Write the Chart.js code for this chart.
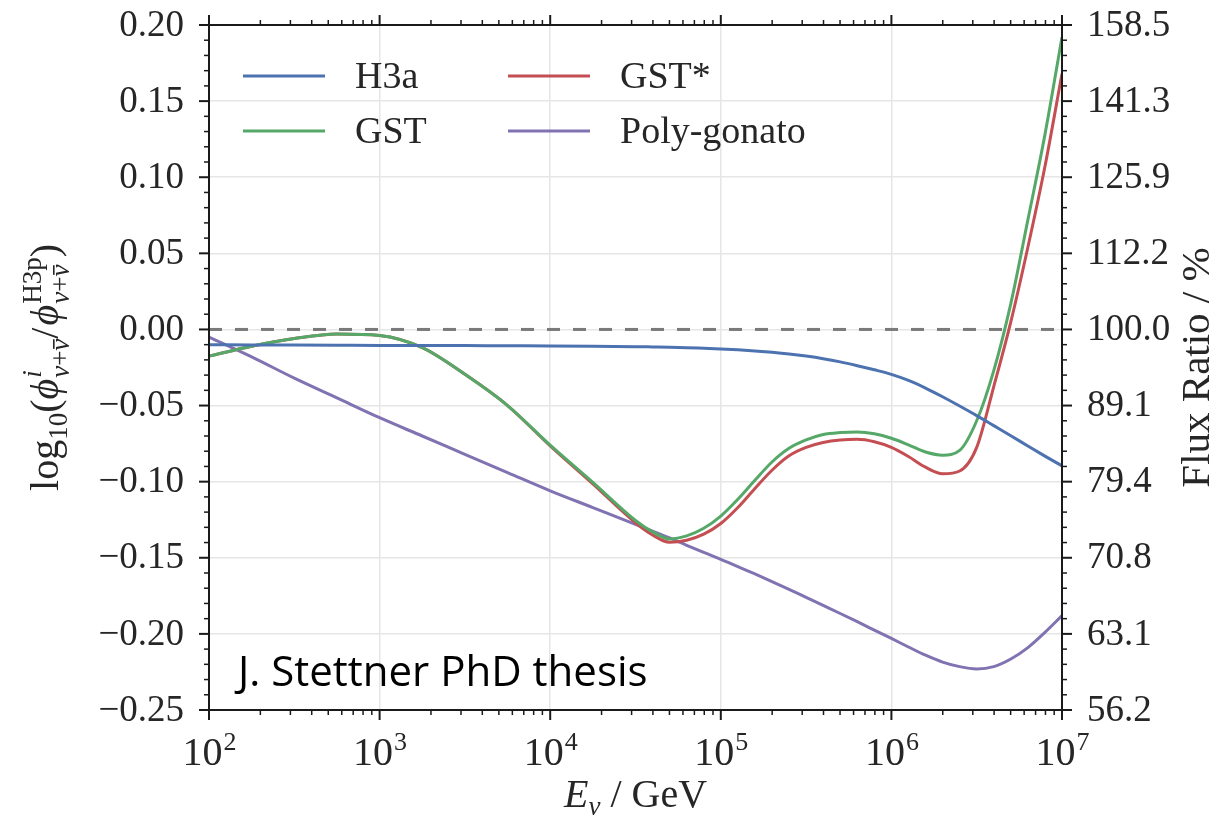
<!DOCTYPE html>
<html><head><meta charset="utf-8">
<script src="https://cdn.jsdelivr.net/npm/chart.js@4.4.0/dist/chart.umd.min.js"></script>
<style>html,body{margin:0;padding:0;background:#fff;}#wrap{width:1217px;height:815px;}</style>
</head><body><div id="wrap"><canvas id="c" width="1217" height="815"></canvas></div>
<script>
// ---- data ----
const energies = [100, 177.8, 316.2, 562.3, 1000, 1778, 3162, 5623, 10000, 17783,
  31623, 39811, 50119, 63096, 79433, 100000, 125893, 158489, 199526, 251189, 316228, 398107, 501187, 630957, 794328,
  1000000, 1258925, 1584893, 1995262, 2511886, 3162278, 3981072, 5011872, 6309573, 7943282, 10000000];
const h3a = [-0.0100, -0.0102, -0.0103, -0.0104, -0.0105, -0.0105, -0.0106, -0.0107, -0.0108, -0.0110,
  -0.0113, -0.0115, -0.0117, -0.0120, -0.0124, -0.0128, -0.0134, -0.0141, -0.0150, -0.0161, -0.0175, -0.0192, -0.0213, -0.0238, -0.0265,
  -0.0295, -0.0335, -0.0385, -0.0442, -0.0503, -0.0566, -0.0632, -0.0698, -0.0766, -0.0832, -0.0896];
const gst = [-0.0175, -0.0110, -0.0060, -0.0030, -0.0040, -0.0120, -0.0295, -0.0500, -0.0760, -0.1005,
  -0.1255, -0.1330, -0.1376, -0.1356, -0.1306, -0.1226, -0.1116, -0.0991, -0.0871, -0.0781, -0.0726, -0.0690, -0.0677, -0.0673, -0.0685,
  -0.0715, -0.0758, -0.0805, -0.0826, -0.0795, -0.0600, -0.0270, 0.0170, 0.0720, 0.1280, 0.1920];
const gstStar = [-0.0175, -0.0110, -0.0060, -0.0030, -0.0040, -0.0120, -0.0295, -0.0500, -0.0765, -0.1015,
  -0.1270, -0.1350, -0.1398, -0.1385, -0.1345, -0.1275, -0.1170, -0.1045, -0.0925, -0.0830, -0.0775, -0.0743, -0.0727, -0.0722, -0.0738,
  -0.0775, -0.0835, -0.0905, -0.0948, -0.0930, -0.0775, -0.0375, 0.0050, 0.0540, 0.1070, 0.1680];
const polyGonato = [-0.0050, -0.0180, -0.0320, -0.0450, -0.0580, -0.0700, -0.0820, -0.0940, -0.1060, -0.1170,
  -0.1280, -0.1325, -0.1370, -0.1418, -0.1465, -0.1510, -0.1558, -0.1606, -0.1656, -0.1707, -0.1760, -0.1813, -0.1866, -0.1920, -0.1975,
  -0.2030, -0.2086, -0.2140, -0.2185, -0.2215, -0.2230, -0.2215, -0.2165, -0.2090, -0.1990, -0.1880];
const refEnergies = [100, 10000000];
const refValues = [0, 0];
const seriesNames = ['H3a', 'GST', 'GST*', 'Poly-gonato'];
const yTickValues = [0.20, 0.15, 0.10, 0.05, 0.00, -0.05, -0.10, -0.15, -0.20, -0.25];
const yTickLabels = ['0.20', '0.15', '0.10', '0.05', '0.00', '\u22120.05', '\u22120.10', '\u22120.15', '\u22120.20', '\u22120.25'];
const fluxRatioLabels = ['158.5', '141.3', '125.9', '112.2', '100.0', '89.1', '79.4', '70.8', '63.1', '56.2'];
const xTickValues = [1e2, 1e3, 1e4, 1e5, 1e6, 1e7];
const xTickBases = ['10', '10', '10', '10', '10', '10'];
const xTickExponents = ['2', '3', '4', '5', '6', '7'];
const annotationText = 'J. Stettner PhD thesis';

// ---- styles ----
const colors = { 'H3a': '#4C72B0', 'GST': '#55A868', 'GST*': '#C44E52', 'Poly-gonato': '#8172B2' };
const SERIF = '"Liberation Serif", "DejaVu Serif", serif';
const TXT = '#262626';

function pts(xs, ys) { return xs.map((x, i) => ({ x: x, y: ys[i] })); }
const seriesData = { 'H3a': h3a, 'GST': gst, 'GST*': gstStar, 'Poly-gonato': polyGonato };

const datasets = [{
  label: 'ref', data: pts(refEnergies, refValues), borderColor: '#7a7a7a', borderWidth: 3,
  borderDash: [13, 13], pointRadius: 0, yAxisID: 'y'
}].concat(seriesNames.map(n => ({
  label: n, data: pts(energies, seriesData[n]), borderColor: colors[n], borderWidth: 3,
  pointRadius: 0, cubicInterpolationMode: 'monotone', yAxisID: 'y'
})));

// math-ish text runs
function mRun(ctx, r) {
  if (r.stack) return Math.max.apply(null, r.stack.map(s => mRun(ctx, s)));
  if (r.seq) return r.seq.reduce((s, q) => s + mRun(ctx, q), 0);
  ctx.font = r.f; return ctx.measureText(r.t).width + (r.pad || 0);
}
function dRun(ctx, r, x, y) {
  if (r.stack) { r.stack.forEach(s => dRun(ctx, s, x, y)); return mRun(ctx, r); }
  if (r.seq) { let cx = x; r.seq.forEach(q => { cx += dRun(ctx, q, cx, y + (r.dy || 0)); }); return cx - x; }
  ctx.font = r.f; const yy = y + (r.dy || 0);
  ctx.fillText(r.t, x, yy);
  const w = ctx.measureText(r.t).width;
  if (r.bar) ctx.fillRect(x + w * 0.15, yy - r.bar, w * 0.8, 1.6);
  return w + (r.pad || 0);
}
function drawRuns(ctx, runs, cx, cy, rot) {
  const w = runs.reduce((s, r) => s + mRun(ctx, r), 0);
  ctx.save(); ctx.translate(cx, cy); if (rot) ctx.rotate(rot);
  let x = -w / 2; runs.forEach(r => { x += dRun(ctx, r, x, 0); });
  ctx.restore();
}

const decor = {
  id: 'decor',
  afterDraw(chart) {
    const ctx = chart.ctx, a = chart.chartArea, xs = chart.scales.x, ys = chart.scales.y;
    ctx.save();
    ctx.fillStyle = TXT; ctx.strokeStyle = '#1a1a1a';
    ctx.lineWidth = 2;
    ctx.strokeRect(a.left, a.top, a.right - a.left, a.bottom - a.top);
    const tick = (x1, y1, x2, y2, w) => { ctx.lineWidth = w; ctx.beginPath(); ctx.moveTo(x1, y1); ctx.lineTo(x2, y2); ctx.stroke(); };
    for (let i = 0; i < xTickValues.length; i++) {
      const d = xTickValues[i]; const px = xs.getPixelForValue(d);
      tick(px, a.bottom, px, a.bottom + 10, 2); tick(px, a.top, px, a.top - 10, 2);
      if (i < xTickValues.length - 1) for (let m = 2; m <= 9; m++) {
        const q = xs.getPixelForValue(d * m);
        tick(q, a.bottom, q, a.bottom + 5, 1.5); tick(q, a.top, q, a.top - 5, 1.5);
      }
    }
    for (let k = -25; k <= 20; k++) {
      const py = ys.getPixelForValue(k / 100); const major = (k % 5 === 0);
      const L = major ? 10 : 5, W = major ? 2 : 1.5;
      tick(a.left, py, a.left - L, py, W); tick(a.right, py, a.right + L, py, W);
    }
    // y tick labels
    ctx.textBaseline = 'middle';
    ctx.font = '37px ' + SERIF; ctx.textAlign = 'right';
    yTickValues.forEach((v, i) => ctx.fillText(yTickLabels[i], a.left - 25, ys.getPixelForValue(v) + 1));
    ctx.textAlign = 'left';
    yTickValues.forEach((v, i) => ctx.fillText(fluxRatioLabels[i], a.right + 25, ys.getPixelForValue(v) + 1));
    // x tick labels 10^n
    ctx.textBaseline = 'alphabetic'; ctx.textAlign = 'left';
    xTickValues.forEach((v, i) => {
      const px = xs.getPixelForValue(v);
      ctx.font = '40px ' + SERIF; const wb = ctx.measureText(xTickBases[i]).width;
      ctx.font = '26px ' + SERIF; const we = ctx.measureText(xTickExponents[i]).width;
      const x0 = px - (wb + we) / 2;
      ctx.font = '40px ' + SERIF; ctx.fillText(xTickBases[i], x0, a.bottom + 55);
      ctx.font = '26px ' + SERIF; ctx.fillText(xTickExponents[i], x0 + wb + 1, a.bottom + 40);
    });
    // axis titles
    const M = '40px ' + SERIF, MI = 'italic 40px ' + SERIF, S = '27px ' + SERIF, SI = 'italic 27px ' + SERIF;
    const nuSum = [{ t: '\u03bd', f: SI }, { t: '+', f: S }, { t: '\u03bd', f: SI, bar: 16 }];
    drawRuns(ctx, [
      { t: 'log', f: M }, { t: '10', f: S, dy: 9 }, { t: '(', f: M }, { t: '\u03d5', f: MI, pad: 1 },
      { stack: [{ t: 'i', f: SI, dy: -17 }, { seq: nuSum, dy: 11 }] }, { t: '/', f: M, pad: 2 },
      { t: '\u03d5', f: MI, pad: 1 }, { stack: [{ t: 'H3p', f: S, dy: -17 }, { seq: nuSum, dy: 11 }] }, { t: ')', f: M }
    ], 58, (a.top + a.bottom) / 2, -Math.PI / 2);
    drawRuns(ctx, [{ t: 'Flux Ratio / %', f: '41px ' + SERIF }], 1209, (a.top + a.bottom) / 2, -Math.PI / 2);
    drawRuns(ctx, [{ t: 'E', f: 'italic 40px ' + SERIF }, { t: '\u03bd', f: 'italic 27px ' + SERIF, dy: 8 }, { t: ' / GeV', f: '40px ' + SERIF }],
      (a.left + a.right) / 2, 807, 0);
    // legend (2 columns, inside)
    const leg = chart.data.datasets.filter(d => d.label !== 'ref');
    const cols = [[243, 355], [508, 620]], rows = [76, 131];
    leg.forEach((d, i) => {
      const c = cols[Math.floor(i / 2)], ry = rows[i % 2];
      ctx.strokeStyle = d.borderColor; ctx.lineWidth = 3;
      ctx.beginPath(); ctx.moveTo(c[0], ry); ctx.lineTo(c[0] + 82, ry); ctx.stroke();
      ctx.fillStyle = TXT; ctx.font = '38px ' + SERIF; ctx.textBaseline = 'middle';
      ctx.fillText(d.label, c[1], ry + 2);
    });
    // annotation
    ctx.fillStyle = '#000'; ctx.textBaseline = 'alphabetic'; ctx.textAlign = 'left';
    ctx.font = '42px "Open Sans", "Noto Sans", sans-serif';
    ctx.fillText(annotationText, 238, 686);
    ctx.restore();
  }
};

new Chart(document.getElementById('c'), {
  type: 'line',
  data: { datasets: datasets },
  options: {
    responsive: false, animation: false, events: [],
    layout: { padding: { top: 25, left: 0, right: 0, bottom: 0 } },
    plugins: { legend: { display: false }, tooltip: { enabled: false } },
    scales: {
      x: {
        type: 'logarithmic', min: 100, max: 1e7,
        afterBuildTicks: s => { s.ticks = xTickValues.map(v => ({ value: v })); },
        afterFit: s => { s.height = 105; },
        ticks: { display: false }, border: { display: false },
        grid: { color: '#e6e6e6', lineWidth: 1.5, drawTicks: false }
      },
      y: {
        type: 'linear', position: 'left', min: -0.25, max: 0.20,
        afterBuildTicks: s => { s.ticks = yTickValues.map(v => ({ value: v })); },
        afterFit: s => { s.width = 209; },
        ticks: { display: false }, border: { display: false },
        grid: { color: '#e6e6e6', lineWidth: 1.5, drawTicks: false }
      },
      y2: {
        type: 'linear', position: 'right', min: -0.25, max: 0.20,
        afterFit: s => { s.width = 155; },
        ticks: { display: false }, border: { display: false }, grid: { display: false }
      }
    }
  },
  plugins: [decor]
});
</script></body></html>
